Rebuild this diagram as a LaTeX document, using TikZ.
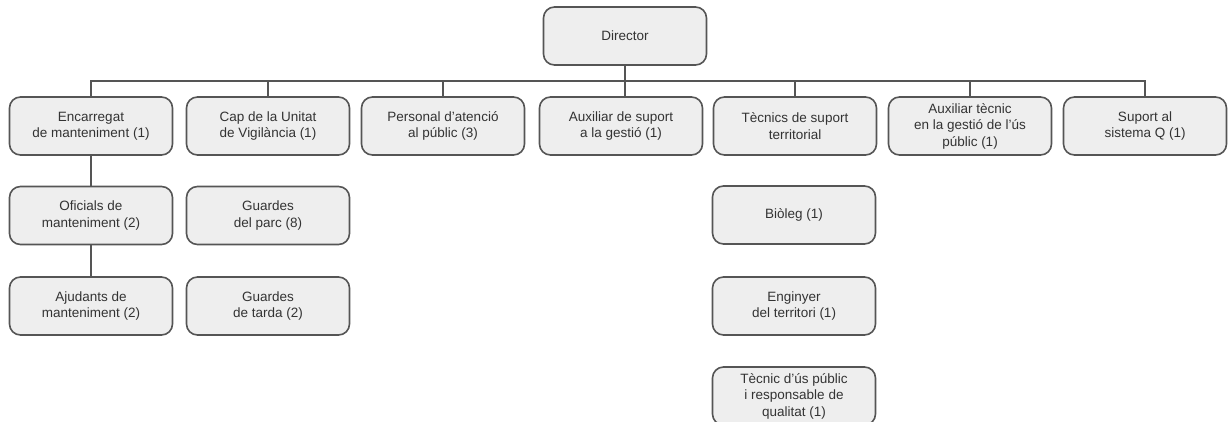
\documentclass[tikz,border=0pt]{standalone}
\usepackage{fontspec}
\setmainfont{Liberation Sans}
\definecolor{boxfill}{HTML}{EEEEEE}
\definecolor{boxline}{HTML}{555555}
\definecolor{txt}{HTML}{333333}
\begin{document}
\begin{tikzpicture}[x=1pt,y=-1pt,
  orgbox/.style={draw=boxline, fill=boxfill, line width=1.6pt, rounded corners=11pt,
    minimum width=163pt, minimum height=58pt, inner sep=2pt, align=center,
    text=txt, font=\fontsize{13.5}{16.5}\selectfont},
  link/.style={draw=boxline, line width=1.6pt}]
\useasboundingbox (0,0) rectangle (1228,421);
\clip (0,0) rectangle (1228,421);
\node[orgbox] (dir) at (625,36) {Director};
\node[orgbox] (b1) at (91,126) {Encarregat\\de manteniment (1)};
\node[orgbox] (b2) at (268,126) {Cap de la Unitat\\de Vigilància (1)};
\node[orgbox] (b3) at (443,126) {Personal d'atenció\\al públic (3)};
\node[orgbox] (b4) at (621,126) {Auxiliar de suport\\a la gestió (1)};
\node[orgbox] (b5) at (795,126) {Tècnics de suport\\territorial};
\node[orgbox] (b6) at (970,126) {Auxiliar tècnic\\en la gestió de l'ús\\públic (1)};
\node[orgbox] (b7) at (1145,126) {Suport al\\sistema Q (1)};
\node[orgbox] (c1) at (91,215.5) {Oficials de\\manteniment (2)};
\node[orgbox] (d1) at (91,306) {Ajudants de\\manteniment (2)};
\node[orgbox] (c2) at (268,215.5) {Guardes\\del parc (8)};
\node[orgbox] (d2) at (268,306) {Guardes\\de tarda (2)};
\node[orgbox] (c5) at (794,215) {Biòleg (1)};
\node[orgbox] (d5) at (794,306) {Enginyer\\del territori (1)};
\node[orgbox] (e5) at (794,396) {Tècnic d'ús públic\\i responsable de\\qualitat (1)};
\coordinate (busL) at (91,81);
\coordinate (busR) at (1145,81);
\draw[link] (dir.south) -- (dir.south |- b4.north);
\draw[link] (b1.north) -- (busL) -- (busR) -- (b7.north);
\foreach \b in {b2,b3,b5,b6} {
  \draw[link] (\b.north) -- (\b.north |- busL);
}
\draw[link] (b1.south) -- (c1.north);
\draw[link] (c1.south) -- (d1.north);
\end{tikzpicture}
\end{document}
